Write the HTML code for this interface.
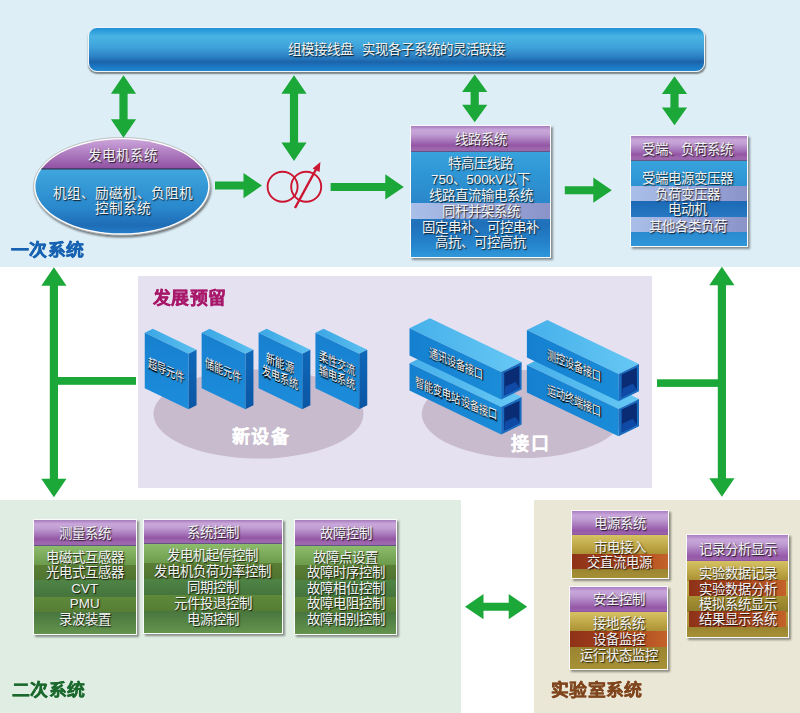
<!DOCTYPE html>
<html lang="zh-CN">
<head>
<meta charset="utf-8">
<style>
html,body{margin:0;padding:0;}
body{width:800px;height:713px;overflow:hidden;position:relative;background:#fff;font-family:"Liberation Sans",sans-serif;}
.abs{position:absolute;}
.bg-top{left:0;top:0;width:800px;height:267px;background:#ddeef6;}
.bg-green{left:0;top:500px;width:461px;height:213px;background:#e0ede3;}
.bg-beige{left:534px;top:500px;width:266px;height:213px;background:#ebe7d6;}
.lav{left:138px;top:276px;width:514px;height:212px;background:#e5e1f0;}
.t{position:absolute;white-space:nowrap;text-align:center;font-size:13.4px;line-height:16px;height:16px;color:#f2f2f2;text-shadow:1px 1px 1.2px rgba(0,0,0,0.85);}
.bar{left:88px;top:27px;width:617px;height:44.5px;border-radius:9px;box-sizing:border-box;border:1.5px solid #f4f4f4;
 background:linear-gradient(to bottom,#1d92d8 0%,#4ab4e4 20%,#3ea2da 45%,#2a7ec2 68%,#1b63aa 79%,#1c78c4 90%,#1e88d0 100%);
 box-shadow:0.5px 2px 1.5px rgba(0,0,0,0.45);}
.box{position:absolute;box-sizing:border-box;border:1.5px solid #fafafa;box-shadow:1.5px 1.5px 2px rgba(0,0,0,0.4);overflow:hidden;}
.hd{position:absolute;left:0;right:0;top:0;background:linear-gradient(to bottom,#a67cbc 0%,#c9a6da 15%,#c2a0d4 30%,#a878bc 55%,#9456a4 74%,#9e68ae 88%,#9c66ac 95%,#3a4a6a 100%);}
.hdl{background:linear-gradient(to bottom,#a87ec0 0%,#c9a6da 17%,#bf9cd2 35%,#a878bc 60%,#9658a8 82%,#9a62ac 94%,#8a50a0 100%);}
.row{position:absolute;left:0;right:0;}
.head{position:absolute;font-weight:900;font-size:16.5px;line-height:18px;transform:scaleX(1.08);transform-origin:0 0;white-space:nowrap;-webkit-text-stroke:0.9px currentColor;}
.sk{position:absolute;width:120px;height:32px;margin-left:-60px;margin-top:-16px;text-align:center;font-size:13px;line-height:14px;color:#f4f4f4;
 text-shadow:1px 1px 1.2px #000,0.5px 0.5px 0.5px #000;transform:matrix(0.7,0.294,0,1,0,0);display:flex;align-items:center;justify-content:center;white-space:nowrap;}
.big{position:absolute;font-weight:900;font-size:18px;line-height:18px;color:#fff;white-space:nowrap;-webkit-text-stroke:0.15px #fff;}
</style>
</head>
<body>
<div class="abs bg-top"></div>
<div class="abs bg-green"></div>
<div class="abs bg-beige"></div>
<div class="abs lav"></div>

<!-- top bar -->
<div class="abs bar"></div>
<div class="t" style="left:88px;top:42.2px;width:617px;font-size:13.4px;">组模接线盘<span style="margin-left:9px">实现各子系统的灵活联接</span></div>

<!-- section labels -->
<div class="head" style="left:11px;top:241px;color:#1862b2;-webkit-text-stroke:0.5px #1862b2;">一次系统</div>
<div class="head" style="left:12px;top:681px;color:#1b692d;-webkit-text-stroke:0.4px #1b692d;">二次系统</div>
<div class="head" style="left:551px;top:681px;color:#7f451d;-webkit-text-stroke:0.4px #7f451d;">实验室系统</div>
<div class="head" style="left:153px;top:289px;color:#a8186a;-webkit-text-stroke:0.35px #a8186a;">发展预留</div>

<svg class="abs" style="left:0;top:0" width="800" height="713" viewBox="0 0 800 713">
 <defs>
  <linearGradient id="gTop" x1="0" y1="0" x2="1" y2="0"><stop offset="0" stop-color="#3aa6e4"/><stop offset="1" stop-color="#5cc0f0"/></linearGradient>
  <linearGradient id="gSide" x1="0" y1="0" x2="0" y2="1"><stop offset="0" stop-color="#0f68b8"/><stop offset="1" stop-color="#0a56a4"/></linearGradient>
  <linearGradient id="gFront" x1="0" y1="0" x2="0" y2="1"><stop offset="0" stop-color="#1780cf"/><stop offset="1" stop-color="#1c8ddb"/></linearGradient>
  <linearGradient id="tTop" x1="0" y1="0" x2="1" y2="0"><stop offset="0" stop-color="#46b0ea"/><stop offset="1" stop-color="#66c8f4"/></linearGradient>
  <linearGradient id="tFront" x1="0" y1="0" x2="1" y2="0"><stop offset="0" stop-color="#1580d0"/><stop offset="1" stop-color="#1a8cd8"/></linearGradient>
  <linearGradient id="ePurp" x1="0" y1="0" x2="0" y2="1"><stop offset="0" stop-color="#d4b0e0"/><stop offset="0.45" stop-color="#b484c6"/><stop offset="1" stop-color="#8e4ea0"/></linearGradient>
  <linearGradient id="eBlue" x1="0" y1="0" x2="0" y2="1"><stop offset="0" stop-color="#3ea6de"/><stop offset="0.55" stop-color="#2a88cc"/><stop offset="0.8" stop-color="#1e6cb6"/><stop offset="1" stop-color="#2a8ad2"/></linearGradient>
  <clipPath id="ecl"><ellipse cx="121.8" cy="186.3" rx="86.4" ry="47"/></clipPath>
  <filter id="sh" x="-10%" y="-10%" width="130%" height="130%"><feGaussianBlur in="SourceAlpha" stdDeviation="1"/><feOffset dx="1" dy="1.5"/><feComponentTransfer><feFuncA type="linear" slope="0.55"/></feComponentTransfer><feMerge><feMergeNode/><feMergeNode in="SourceGraphic"/></feMerge></filter>
 </defs>
 <!-- generator ellipse -->
 <g filter="url(#sh)">
  <ellipse cx="121.8" cy="186.3" rx="88.2" ry="48.8" fill="#fff" stroke="#a0a0a0" stroke-width="0.6"/>
 </g>
 <g clip-path="url(#ecl)">
  <rect x="30" y="135" width="190" height="34.5" fill="url(#ePurp)"/>
  <rect x="30" y="169.3" width="190" height="70" fill="url(#eBlue)"/>
  <rect x="30" y="168.2" width="190" height="1.5" fill="#2a3a5a" opacity="0.85"/>
 </g>
 <!-- transformer -->
 <g fill="none" stroke="#cc1530" stroke-width="1.9">
  <circle cx="282.6" cy="186.7" r="15"/>
  <circle cx="306.2" cy="186.7" r="15"/>
  <line x1="295" y1="208" x2="317" y2="167.5" stroke-width="2.4"/>
 </g>
 <polygon points="320.4,162 312.6,168.4 319.6,172" fill="#cc1530"/>
 <g fill="#1ba838">
  <path d="M123.50,75.20 L136.10,93.70 L127.60,93.70 L127.60,119.30 L136.10,119.30 L123.50,137.80 L110.90,119.30 L119.40,119.30 L119.40,93.70 L110.90,93.70 Z"/>
  <path d="M294.00,75.30 L306.60,93.80 L298.10,93.80 L298.10,142.50 L306.60,142.50 L294.00,161.00 L281.40,142.50 L289.90,142.50 L289.90,93.80 L281.40,93.80 Z"/>
  <path d="M474.70,74.50 L487.30,92.00 L478.80,92.00 L478.80,104.80 L487.30,104.80 L474.70,122.30 L462.10,104.80 L470.60,104.80 L470.60,92.00 L462.10,92.00 Z"/>
  <path d="M674.50,76.30 L687.10,94.10 L678.60,94.10 L678.60,107.50 L687.10,107.50 L674.50,125.30 L661.90,107.50 L670.40,107.50 L670.40,94.10 L661.90,94.10 Z"/>
  <path d="M53.90,267.20 L66.50,285.70 L58.00,285.70 L58.00,478.70 L66.50,478.70 L53.90,497.20 L41.30,478.70 L49.80,478.70 L49.80,285.70 L41.30,285.70 Z"/>
  <path d="M721.90,266.80 L734.50,285.30 L726.00,285.30 L726.00,478.30 L734.50,478.30 L721.90,496.80 L709.30,478.30 L717.80,478.30 L717.80,285.30 L709.30,285.30 Z"/>
  <path d="M215.00,181.60 L243.50,181.60 L243.50,173.00 L262.00,185.60 L243.50,198.20 L243.50,189.60 L215.00,189.60 Z"/>
  <path d="M330.60,182.90 L385.30,182.90 L385.30,174.30 L403.80,186.90 L385.30,199.50 L385.30,190.90 L330.60,190.90 Z"/>
  <path d="M564.80,186.20 L593.30,186.20 L593.30,177.60 L611.80,190.20 L593.30,202.80 L593.30,194.20 L564.80,194.20 Z"/>
  <path d="M465.00,606.70 L483.50,594.10 L483.50,602.70 L508.70,602.70 L508.70,594.10 L527.20,606.70 L508.70,619.30 L508.70,610.70 L483.50,610.70 L483.50,619.30 Z"/>
  <rect x="57" y="377" width="79" height="7.8"/>
  <rect x="657" y="379.3" width="62" height="7.6"/>
 </g>
 <ellipse cx="258.5" cy="414" rx="105" ry="44.5" fill="#c8bbcd"/>
<ellipse cx="522.8" cy="414" rx="101" ry="44" fill="#c8bbcd"/>
<polygon points="144.75,332.75 152.85,328.75 196.55,349.68 188.45,353.68" fill="url(#gTop)"/><polygon points="188.45,353.68 196.55,349.68 196.55,405.18 188.45,409.18" fill="url(#gSide)"/><polygon points="144.75,332.75 188.45,353.68 188.45,409.18 144.75,388.25" fill="url(#gFront)"/>
<polygon points="201.65,332.75 209.75,328.75 253.45,349.68 245.35,353.68" fill="url(#gTop)"/><polygon points="245.35,353.68 253.45,349.68 253.45,405.18 245.35,409.18" fill="url(#gSide)"/><polygon points="201.65,332.75 245.35,353.68 245.35,409.18 201.65,388.25" fill="url(#gFront)"/>
<polygon points="258.55,332.75 266.65,328.75 310.35,349.68 302.25,353.68" fill="url(#gTop)"/><polygon points="302.25,353.68 310.35,349.68 310.35,405.18 302.25,409.18" fill="url(#gSide)"/><polygon points="258.55,332.75 302.25,353.68 302.25,409.18 258.55,388.25" fill="url(#gFront)"/>
<polygon points="315.45,332.75 323.55,328.75 367.25,349.68 359.15,353.68" fill="url(#gTop)"/><polygon points="359.15,353.68 367.25,349.68 367.25,405.18 359.15,409.18" fill="url(#gSide)"/><polygon points="315.45,332.75 359.15,353.68 359.15,409.18 315.45,388.25" fill="url(#gFront)"/>
<polygon points="409.50,363.20 429.90,353.20 521.60,397.12 501.20,407.12" fill="url(#tTop)"/><polygon points="409.50,363.20 501.20,407.12 501.20,434.52 409.50,390.60" fill="url(#tFront)"/><polygon points="501.20,407.12 521.60,397.12 521.60,424.52 501.20,434.52" fill="#1a6cc0"/><polygon points="504.20,407.72 519.50,400.72 519.50,423.02 504.20,430.62" fill="#0a2c74"/><polygon points="504.20,430.62 519.50,423.02 515.50,417.02 505.20,421.62" fill="#0f4aa6"/>
<polygon points="526.90,365.00 547.30,355.00 639.00,398.92 618.60,408.92" fill="url(#tTop)"/><polygon points="526.90,365.00 618.60,408.92 618.60,436.32 526.90,392.40" fill="url(#tFront)"/><polygon points="618.60,408.92 639.00,398.92 639.00,426.32 618.60,436.32" fill="#1a6cc0"/><polygon points="621.60,409.52 636.90,402.52 636.90,424.82 621.60,432.42" fill="#0a2c74"/><polygon points="621.60,432.42 636.90,424.82 632.90,418.82 622.60,423.42" fill="#0f4aa6"/>
<polygon points="409.50,328.20 429.90,318.20 521.60,362.12 501.20,372.12" fill="url(#tTop)"/><polygon points="409.50,328.20 501.20,372.12 501.20,399.52 409.50,355.60" fill="url(#tFront)"/><polygon points="501.20,372.12 521.60,362.12 521.60,389.52 501.20,399.52" fill="#1a6cc0"/><polygon points="504.20,372.72 519.50,365.72 519.50,388.02 504.20,395.62" fill="#0a2c74"/><polygon points="504.20,395.62 519.50,388.02 515.50,382.02 505.20,386.62" fill="#0f4aa6"/>
<polygon points="526.90,330.00 547.30,320.00 639.00,363.92 618.60,373.92" fill="url(#tTop)"/><polygon points="526.90,330.00 618.60,373.92 618.60,401.32 526.90,357.40" fill="url(#tFront)"/><polygon points="618.60,373.92 639.00,363.92 639.00,391.32 618.60,401.32" fill="#1a6cc0"/><polygon points="621.60,374.52 636.90,367.52 636.90,389.82 621.60,397.42" fill="#0a2c74"/><polygon points="621.60,397.42 636.90,389.82 632.90,383.82 622.60,388.42" fill="#0f4aa6"/>
</svg>

<div class="t" style="left:30px;top:147.7px;width:185px;font-size:13.6px;">发电机系统</div>
<div class="t" style="left:30px;top:185.8px;width:185px;font-size:13.6px;">机组、励磁机、负阻机</div>
<div class="t" style="left:30px;top:201.2px;width:185px;font-size:13.6px;">控制系统</div>

<div class="sk" style="left:165.8px;top:370.6px;">超导元件</div>
<div class="sk" style="left:222.7px;top:370.6px;">储能元件</div>
<div class="sk" style="left:280.4px;top:371px;">新能源<br>发电系统</div>
<div class="sk" style="left:337.3px;top:371px;">柔性交流<br>输电系统</div>
<div class="sk" style="left:456.4px;top:364.4px;">通讯设备接口</div>
<div class="sk" style="left:456.4px;top:399.4px;">智能变电站设备接口</div>
<div class="sk" style="left:573.8px;top:366.2px;">测控设备接口</div>
<div class="sk" style="left:573.8px;top:401.2px;">运动终端接口</div>
<div class="big" style="left:231.5px;top:427.5px;letter-spacing:1.5px;">新设备</div>
<div class="big" style="left:511px;top:435.3px;letter-spacing:2px;">接口</div>

<div class="box" style="left:410px;top:124.5px;width:141.20000000000005px;height:133.8px;background:linear-gradient(to bottom,#45b2e6 0%,#2f97d6 35%,#2a86c9 60%,#1f6fb9 75%,#2584cc 90%,#2f97da 100%);"><div class="hd " style="height:26.20px"></div><div class="row" style="top:77.00px;height:16.30px;background:linear-gradient(to right,#a9bfe8 0%,#9aa9dc 50%,#8b93c8 100%);"></div></div><div class="t" style="left:410px;top:131.90px;width:141.20000000000005px;">线路系统</div><div class="t" style="left:410px;top:155.60px;width:141.20000000000005px;">特高压线路</div><div class="t" style="left:410px;top:171.50px;width:141.20000000000005px;">750、500kV以下</div><div class="t" style="left:410px;top:187.60px;width:141.20000000000005px;">线路直流输电系统</div><div class="t" style="left:410px;top:204.00px;width:141.20000000000005px;">同杆并架系统</div><div class="t" style="left:410px;top:219.50px;width:141.20000000000005px;">固定串补、可控串补</div><div class="t" style="left:410px;top:234.80px;width:141.20000000000005px;">高抗、可控高抗</div>
<div class="box" style="left:630px;top:134.8px;width:117.79999999999995px;height:112.0px;background:linear-gradient(to bottom,#45b2e6 0%,#2f97d6 40%,#2a86c9 60%,#1f6fb9 75%,#2584cc 90%,#2f97da 100%);"><div class="hd " style="height:24.90px"></div><div class="row" style="top:50.10px;height:15.80px;background:linear-gradient(to right,#a9bfe8 0%,#9aa9dc 50%,#8b93c8 100%);"></div><div class="row" style="top:65.30px;height:16.60px;background:linear-gradient(to bottom,#1d69b6,#2579c2);"></div><div class="row" style="top:81.30px;height:15.70px;background:linear-gradient(to right,#a9bfe8 0%,#9aa9dc 50%,#8b93c8 100%);"></div><div class="row" style="top:96.40px;height:14.90px;background:linear-gradient(to bottom,#2a8ad0,#2f97da);"></div></div><div class="t" style="left:628.8px;top:142.40px;width:117.79999999999995px;">受端、负荷系统</div><div class="t" style="left:628.8px;top:171.20px;width:117.79999999999995px;">受端电源变压器</div><div class="t" style="left:628.8px;top:186.60px;width:117.79999999999995px;">负荷变压器</div><div class="t" style="left:628.8px;top:202.10px;width:117.79999999999995px;">电动机</div><div class="t" style="left:628.8px;top:218.60px;width:117.79999999999995px;">其他各类负荷</div>
<div class="box" style="left:33px;top:519px;width:103.5px;height:115.5px;background:#6a9a50;"><div class="hd " style="height:25.50px"></div><div class="row" style="top:25.50px;height:19.60px;background:linear-gradient(to bottom,#8cbc6c,#6a9a4a);"></div><div class="row" style="top:44.50px;height:16.10px;background:linear-gradient(to bottom,#5a7e34,#4f7430);"></div><div class="row" style="top:60.00px;height:17.10px;background:linear-gradient(to bottom,#4f8446,#45743c);"></div><div class="row" style="top:76.50px;height:16.30px;background:linear-gradient(to bottom,#5e8a3a,#557d34);"></div><div class="row" style="top:92.20px;height:28.90px;background:linear-gradient(to bottom,#48763e,#5a8a48 50%,#6c9c52);"></div></div><div class="t" style="left:33px;top:526.00px;width:103.5px;">测量系统</div><div class="t" style="left:33px;top:549.60px;width:103.5px;">电磁式互感器</div><div class="t" style="left:33px;top:565.40px;width:103.5px;">光电式互感器</div><div class="t" style="left:33px;top:580.80px;width:103.5px;">CVT</div><div class="t" style="left:33px;top:596.30px;width:103.5px;">PMU</div><div class="t" style="left:33px;top:612.40px;width:103.5px;">录波装置</div>
<div class="box" style="left:143px;top:518.5px;width:139.5px;height:115.5px;background:#6a9a50;"><div class="hd " style="height:24.80px"></div><div class="row" style="top:24.80px;height:19.60px;background:linear-gradient(to bottom,#8cbc6c,#6a9a4a);"></div><div class="row" style="top:43.80px;height:16.10px;background:linear-gradient(to bottom,#5a7e34,#4f7430);"></div><div class="row" style="top:59.30px;height:17.10px;background:linear-gradient(to bottom,#4f8446,#45743c);"></div><div class="row" style="top:75.80px;height:16.30px;background:linear-gradient(to bottom,#5e8a3a,#557d34);"></div><div class="row" style="top:91.50px;height:28.90px;background:linear-gradient(to bottom,#48763e,#5a8a48 50%,#6c9c52);"></div></div><div class="t" style="left:143px;top:525.10px;width:139.5px;">系统控制</div><div class="t" style="left:143px;top:548.40px;width:139.5px;">发电机起停控制</div><div class="t" style="left:143px;top:564.20px;width:139.5px;">发电机负荷功率控制</div><div class="t" style="left:143px;top:580.10px;width:139.5px;">同期控制</div><div class="t" style="left:143px;top:596.10px;width:139.5px;">元件投退控制</div><div class="t" style="left:143px;top:611.80px;width:139.5px;">电源控制</div>
<div class="box" style="left:294px;top:519px;width:103px;height:115.5px;background:#6a9a50;"><div class="hd " style="height:25.50px"></div><div class="row" style="top:25.50px;height:19.60px;background:linear-gradient(to bottom,#8cbc6c,#6a9a4a);"></div><div class="row" style="top:44.50px;height:16.10px;background:linear-gradient(to bottom,#5a7e34,#4f7430);"></div><div class="row" style="top:60.00px;height:17.10px;background:linear-gradient(to bottom,#4f8446,#45743c);"></div><div class="row" style="top:76.50px;height:16.30px;background:linear-gradient(to bottom,#5e8a3a,#557d34);"></div><div class="row" style="top:92.20px;height:28.90px;background:linear-gradient(to bottom,#48763e,#5a8a48 50%,#6c9c52);"></div></div><div class="t" style="left:294px;top:526.00px;width:103px;">故障控制</div><div class="t" style="left:294px;top:549.60px;width:103px;">故障点设置</div><div class="t" style="left:294px;top:565.40px;width:103px;">故障时序控制</div><div class="t" style="left:294px;top:580.80px;width:103px;">故障相位控制</div><div class="t" style="left:294px;top:596.30px;width:103px;">故障电阻控制</div><div class="t" style="left:294px;top:612.40px;width:103px;">故障相别控制</div>
<div class="box" style="left:570.5px;top:509.8px;width:98.5px;height:68.99999999999994px;background:linear-gradient(to bottom,#d6c264 0%,#bca444 60%,#a88f34 100%);"><div class="hd hdl" style="height:24.70px"></div><div class="row" style="top:24.70px;height:19.40px;background:linear-gradient(to bottom,#d6c264 0%,#bca444 60%,#a88f34 100%);"></div><div class="row" style="top:43.50px;height:15.40px;background:linear-gradient(to right,#8e3218 0%,#a6421c 50%,#c4622a 100%);"></div><div class="row" style="top:58.30px;height:10.00px;background:linear-gradient(to bottom,#9a8430 0%,#a89236 100%);"></div></div><div class="t" style="left:570.5px;top:515.90px;width:98.5px;">电源系统</div><div class="t" style="left:570.5px;top:539.80px;width:98.5px;">市电接入</div><div class="t" style="left:570.5px;top:555.30px;width:98.5px;">交直流电源</div>
<div class="box" style="left:569px;top:585.8px;width:99px;height:83.80000000000007px;background:linear-gradient(to bottom,#d6c264 0%,#bca444 60%,#a88f34 100%);"><div class="hd hdl" style="height:25.40px"></div><div class="row" style="top:25.40px;height:19.90px;background:linear-gradient(to bottom,#d6c264 0%,#bca444 60%,#a88f34 100%);"></div><div class="row" style="top:44.70px;height:15.70px;background:linear-gradient(to right,#8e3218 0%,#a6421c 50%,#c4622a 100%);"></div><div class="row" style="top:59.80px;height:23.50px;background:linear-gradient(to bottom,#9a8430 0%,#a89236 100%);"></div></div><div class="t" style="left:569px;top:592.20px;width:99px;">安全控制</div><div class="t" style="left:569px;top:616.00px;width:99px;">接地系统</div><div class="t" style="left:569px;top:632.00px;width:99px;">设备监控</div><div class="t" style="left:569px;top:647.70px;width:99px;">运行状态监控</div>
<div class="box" style="left:686.2px;top:534.2px;width:102.79999999999995px;height:103.79999999999995px;background:linear-gradient(to bottom,#d6c264 0%,#bca444 60%,#a88f34 100%);"><div class="hd hdl" style="height:25.60px"></div><div class="row" style="top:25.60px;height:20.20px;background:linear-gradient(to bottom,#d6c264 0%,#bca444 60%,#a88f34 100%);"></div><div class="row" style="top:45.20px;height:15.80px;background:linear-gradient(to right,#8e3218 0%,#a6421c 50%,#c4622a 100%);left:2px;right:2px"></div><div class="row" style="top:60.40px;height:16.20px;background:linear-gradient(to bottom,#a89434 0%,#8e7c2a 100%);"></div><div class="row" style="top:76.00px;height:16.20px;background:linear-gradient(to right,#8e3218 0%,#a6421c 50%,#c4622a 100%);left:2px;right:2px"></div><div class="row" style="top:91.60px;height:11.30px;background:linear-gradient(to bottom,#9a8430 0%,#a89236 100%);"></div></div><div class="t" style="left:686.2px;top:542.00px;width:102.79999999999995px;">记录分析显示</div><div class="t" style="left:686.2px;top:566.10px;width:102.79999999999995px;">实验数据记录</div><div class="t" style="left:686.2px;top:581.80px;width:102.79999999999995px;">实验数据分析</div><div class="t" style="left:686.2px;top:596.60px;width:102.79999999999995px;">模拟系统显示</div><div class="t" style="left:686.2px;top:612.10px;width:102.79999999999995px;">结果显示系统</div>
</body>
</html>
